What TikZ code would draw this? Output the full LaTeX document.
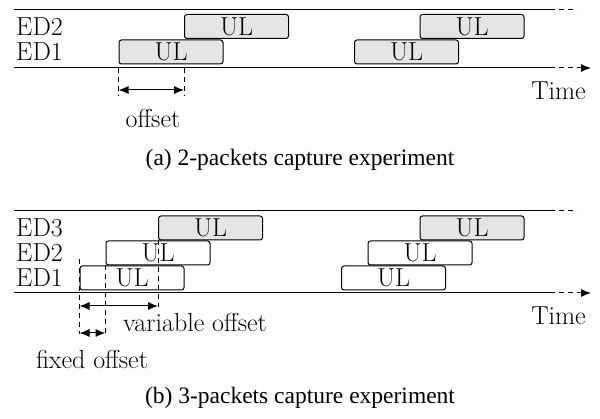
\documentclass[tikz,border=0pt]{standalone}
\usepackage{fontspec}
\newfontfamily\capfont{Liberation Serif}
\usetikzlibrary{arrows.meta}
\tikzset{
  txt/.style={font=\fontsize{26}{30}\selectfont,inner sep=1pt},
  captxt/.style={font=\capfont\fontsize{23.5}{28}\selectfont,inner sep=1pt},
  ul/.style={txt,draw,rounded corners=2.5pt,minimum width=104pt,minimum height=24pt,inner sep=0pt,line width=1pt},
  ulg/.style={ul,fill=gray!20},
  ax/.style={line width=1pt},
  dsh/.style={dash pattern=on 5pt off 4pt},
}
\begin{document}
\begin{tikzpicture}[x=1pt,y=-1pt,>={Latex[length=10pt,width=8pt]}]
  \useasboundingbox (0,0) rectangle (600,419);
  % (a)
  \coordinate (AT1) at (14,10);
  \coordinate (AT2) at (550,10);
  \coordinate (AT3) at (577,10);
  \coordinate (AB1) at (14,68);
  \coordinate (AB2) at (550,68);
  \coordinate (AB3) at (591,68);
  \draw[ax] (AT1)--(AT2);
  \draw[ax,dsh] (AT2)--(AT3);
  \draw[ax] (AB1)--(AB2);
  \draw[ax,dsh,->] (AB2)--(AB3);
  \node[txt,anchor=west] (LA2) at (15,26.5){ED2};
  \node[txt,anchor=west] (LA1) at (15,52){ED1};
  \node[ulg] (A2) at (236.5,26.5){UL};
  \node[ulg] (A1) at (171,52){UL};
  \node[ulg] (A4) at (472,26.5){UL};
  \node[ulg] (A3) at (406.5,52){UL};
  \node[txt,anchor=east] (TA) at (587,91){Time};
  \draw[ax,dsh] (A1.south west |- AB1)--(A1.south west |- 0,96);
  \draw[ax,dsh] (A2.south west |- AB1)--(A2.south west |- 0,96);
  \draw[ax,<->] (A1.south west |- 0,90)--(A2.south west |- 0,90);
  \node[txt] (OA) at (153,118){offset};
  \node[captxt] (CA) at (300,160){(a) 2-packets capture experiment};
  % (b)
  \coordinate (BT1) at (14,211);
  \coordinate (BT2) at (550,211);
  \coordinate (BT3) at (577,211);
  \coordinate (BB1) at (14,293);
  \coordinate (BB2) at (550,293);
  \coordinate (BB3) at (591,293);
  \draw[ax] (BT1)--(BT2);
  \draw[ax,dsh] (BT2)--(BT3);
  \draw[ax] (BB1)--(BB2);
  \draw[ax,dsh,->] (BB2)--(BB3);
  \node[txt,anchor=west] (LB3) at (15,228){ED3};
  \node[txt,anchor=west] (LB2) at (15,253){ED2};
  \node[txt,anchor=west] (LB1) at (15,278){ED1};
  \node[ulg] (B3) at (210.5,228){UL};
  \node[ul] (B2) at (158,253){UL};
  \node[ul] (B1) at (132,278){UL};
  \node[ulg] (B6) at (472,228){UL};
  \node[ul] (B5) at (420,253){UL};
  \node[ul] (B4) at (393.5,278){UL};
  \node[txt,anchor=east] (TB) at (587,316){Time};
  \draw[ax,dsh] (B1.south west |- 0,259)--(B1.south west |- 0,334);
  \draw[ax,dsh] (B2.south west)--(B2.south west |- 0,334);
  \draw[ax,dsh] (B3.south west)--(B3.south west |- 0,307);
  \draw[ax,<->] (B1.south west |- 0,306)--(B3.south west |- 0,306);
  \draw[ax,<->] (B1.south west |- 0,333)--(B2.south west |- 0,333);
  \node[txt] (VB) at (195,322){variable offset};
  \node[txt] (FB) at (92,359){fixed offset};
  \node[captxt] (CB) at (300,398){(b) 3-packets capture experiment};
\end{tikzpicture}
\end{document}
